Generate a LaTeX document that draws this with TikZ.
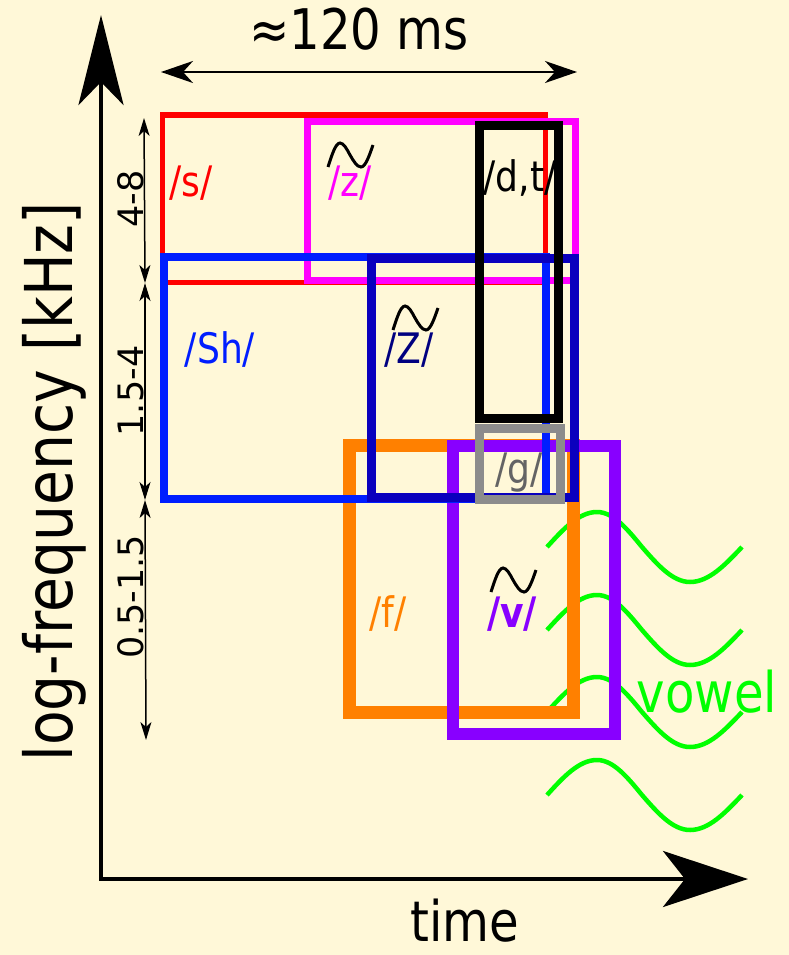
\documentclass[tikz,border=0pt]{standalone}
\usepackage{fontspec}
\setmainfont{DejaVu Sans}[FakeStretch=0.86]
\newfontfamily\plainsans{DejaVu Sans}
\usetikzlibrary{arrows.meta}

\definecolor{paper}{RGB}{255,248,216}
\definecolor{sred}{RGB}{255,0,0}
\definecolor{zmag}{RGB}{255,0,255}
\definecolor{shblue}{RGB}{0,30,255}
\definecolor{zhblue}{RGB}{10,0,190}
\definecolor{zhtext}{RGB}{0,0,128}
\definecolor{ggray}{RGB}{140,140,140}
\definecolor{gtext}{RGB}{100,100,100}
\definecolor{forange}{RGB}{255,128,0}
\definecolor{vpurple}{RGB}{136,0,255}
\definecolor{vgreen}{RGB}{0,255,0}

\begin{document}
\begin{tikzpicture}[x=1pt,y=-1pt,
  zone/.style={draw=#1},
  phon/.style={font=\fontsize{42}{44}\selectfont,anchor=base},
  big/.style={font=\fontsize{56}{60}\selectfont,anchor=base,inner sep=0pt},
  band/.style={font=\plainsans\fontsize{35}{38}\selectfont,rotate=90,anchor=base},
  dimarrow/.style={>={Stealth[length=18pt,width=11pt,inset=5pt]},<->,line width=1.5pt},
  voiced/.style={line width=3pt},
  wave/.style={draw=vgreen,line width=4.5pt}]

  \fill[paper] (0,0) rectangle (789,955);
  \useasboundingbox (0,0) rectangle (789,955);

  % vowel formants
  \foreach \y in {547,630,712,795}
    \draw[wave] (547,\y) sin (597,\y-35) cos (642,\y) sin (690,\y+35) cos (742,\y);

  % fricative and plosive regions
  \draw[zone=forange,line width=13pt] (349.5,445) rectangle (573.5,712);
  \draw[zone=vpurple,line width=12pt] (453,446) rectangle (615,733.5);
  \draw[zone=sred,line width=5.5pt] (162.5,115) rectangle (545.5,282.5);
  \draw[zone=zmag,line width=7pt] (307.5,121.5) rectangle (575.5,280.5);
  \draw[zone=shblue,line width=8.5pt] (164,257) rectangle (546,499);
  \draw[zone=zhblue,line width=9pt] (371,258) rectangle (574,497);
  \draw[zone=black,line width=9pt] (479,125.5) rectangle (558,418);
  \draw[zone=ggray,line width=9pt] (479.5,428) rectangle (560,499.5);

  \node[phon,text=sred] (lblS) at (191,196) {/s/};
  \node[phon,text=zmag] (lblZ) at (350,196) {/z/};
  \node[phon] (lblDT) at (520,191) {/d,t/};
  \node[phon,text=shblue] (lblSh) at (220,363) {/Sh/};
  \node[phon,text=zhtext] (lblZh) at (409,363) {/Z/};
  \node[phon,text=gtext] (lblG) at (519,483) {/g/};
  \node[phon,text=forange] (lblF) at (388,627) {/f/};
  \node[phon,text=vpurple,font=\fontsize{42}{44}\selectfont\bfseries] (lblV) at (512,627) {/v/};

  % voicing marks
  \draw[voiced,shift={(350,155)}] (-22,12) sin (-10,-12) cos (0,0) sin (11,12) cos (23,-10);
  \draw[voiced,shift={(415,318)}] (-22,12) sin (-10,-12) cos (0,0) sin (11,12) cos (23,-10);
  \draw[voiced,shift={(513,580)}] (-22,12) sin (-10,-12) cos (0,0) sin (11,12) cos (23,-10);

  \node[big,text=vgreen] (vowel) at (707,712) {vowel};

  % axes
  \coordinate (origin) at (101,879);
  \coordinate (ytop) at (101,15);
  \coordinate (xend) at (748,879);
  \draw[line width=4pt,{Stealth[length=90pt,width=45pt,inset=23pt]}-{Stealth[length=85pt,width=56pt,inset=22pt]}]
    (ytop) -- (origin) -- (xend);
  \node[big] (timeLbl) at (465,941) {time};
  \node[big,font=\fontsize{66}{70}\selectfont,rotate=90] (freqLbl) at (72,482) {log-frequency [kHz]};

  % duration
  \coordinate (d0) at (161,72);
  \coordinate (d1) at (577,72);
  \draw[line width=2pt,>={Stealth[length=32pt,width=22pt,inset=10pt]},<->] (d0) -- (d1);
  \node[big] (durLbl) at (359,50) {≈120 ms};

  % frequency bands
  \coordinate (b0) at (144,118);
  \coordinate (b1) at (145,283);
  \coordinate (b2) at (145,500);
  \coordinate (b3) at (146,740);
  \draw[dimarrow] (b0) -- (b1);
  \draw[dimarrow] (b1) -- (b2);
  \draw[dimarrow] (b2) -- (b3);
  \node[band] (bandHi) at (143,199) {4-8};
  \node[band] (bandMid) at (143,391) {1.5-4};
  \node[band] (bandLo) at (143,597) {0.5-1.5};
\end{tikzpicture}
\end{document}
